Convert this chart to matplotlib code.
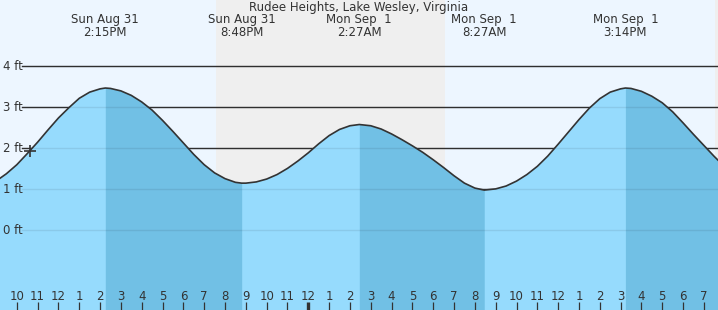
import numpy as np
import matplotlib.pyplot as plt

# hours counted from Sun Aug 31 00:00, heights in ft
hours = [9.0, 9.5, 10.0, 10.5, 11.0, 11.5, 12.0, 12.5, 13.0, 13.5, 14.0, 14.25,
         14.5, 15.0, 15.5, 16.0, 16.5, 17.0, 17.5, 18.0, 18.5, 19.0, 19.5, 20.0,
         20.5, 20.8, 21.0, 21.5, 22.0, 22.5, 23.0, 23.5, 24.0, 24.5, 25.0, 25.5,
         26.0, 26.45, 27.0, 27.5, 28.0, 28.5, 29.0, 29.5, 30.0, 30.5, 31.0, 31.5,
         32.0, 32.45, 33.0, 33.5, 34.0, 34.5, 35.0, 35.5, 36.0, 36.5, 37.0, 37.5,
         38.0, 38.5, 39.0, 39.23, 39.5, 40.0, 40.5, 41.0, 41.5, 42.0, 42.5, 43.0,
         43.5, 44.0]
height_ft = [1.20, 1.38, 1.60, 1.87, 2.15, 2.45, 2.74, 2.99, 3.22, 3.37, 3.45, 3.47,
             3.46, 3.40, 3.29, 3.13, 2.93, 2.68, 2.41, 2.13, 1.85, 1.60, 1.40, 1.26,
             1.17, 1.15, 1.15, 1.18, 1.25, 1.36, 1.51, 1.69, 1.89, 2.11, 2.31, 2.46,
             2.55, 2.58, 2.55, 2.47, 2.35, 2.21, 2.06, 1.90, 1.72, 1.53, 1.33, 1.15,
             1.03, 0.98, 1.01, 1.08, 1.20, 1.36, 1.56, 1.81, 2.10, 2.40, 2.70, 2.98,
             3.21, 3.37, 3.45, 3.47, 3.46, 3.39, 3.27, 3.11, 2.89, 2.62, 2.34, 2.07,
             1.80, 1.55]

high_hours = [14.25, 26.45, 39.23]
low_hours = [20.8, 32.45]

tide_hours = [14.25, 20.8, 26.45, 32.45, 39.23]
tide_days = ["Sun Aug 31", "Sun Aug 31", "Mon Sep  1", "Mon Sep  1", "Mon Sep  1"]
tide_clock = ["2:15PM", "8:48PM", "2:27AM", "8:27AM", "3:14PM"]

night_spans = [(19.57, 30.57), (43.52, 44.5)]
now_hour = 10.63

ft_levels = [0, 1, 2, 3, 4]
hour_ticks = list(range(10, 44))

title = "Rudee Heights, Lake Wesley, Virginia"

t = np.array(hours)
h = np.array(height_ft)

W, H = 718, 310
x0, x1 = 9.192, 43.678
y0, y1 = -1.944, 5.617

sky = "#EDF6FF"
night = "#EFEFEF"
water = "#96DBFD"
water_dark = "#71C0E5"
ink = "#333333"
fs = 8.5

plt.rcParams["font.family"] = "DejaVu Sans"
fig = plt.figure(figsize=(W / 100, H / 100), dpi=100)
ax = fig.add_axes([0, 0, 1, 1])
ax.set_xlim(x0, x1)
ax.set_ylim(y0, y1)
ax.axis("off")
ax.add_patch(plt.Rectangle((0, 0), 1, 1, transform=ax.transAxes, color=sky, zorder=0))

for a, b in night_spans:
    ax.axvspan(a, b, color=night, lw=0, zorder=0.5)

# level lines
for lv in ft_levels:
    ax.axhline(lv, xmin=22 / W, color=ink, lw=1.0, zorder=1)
    ax.text(3 / W, lv, f"{lv} ft", transform=ax.get_yaxis_transform(), ha="left",
            va="center", fontsize=fs, color=ink, zorder=5)

# water
ax.fill_between(t, h, y0 - 1, color=water, lw=0, zorder=2)
for hs in high_hours:
    nxt = [lo for lo in low_hours if lo > hs]
    end = nxt[0] if nxt else t[-1]
    m = (t >= hs) & (t <= end)
    ax.fill_between(t[m], h[m], y0 - 1, color=water_dark, lw=0, zorder=2.1)
for lv in ft_levels:
    ax.axhline(lv, xmin=22 / W, color="k", alpha=0.08, lw=1.0, zorder=2.5)
ax.plot(t, h, color=ink, lw=1.2, zorder=3)

ax.plot([now_hour], [np.interp(now_hour, t, h)], marker="+", color=ink,
        ms=9, mew=1.2, zorder=4)

# bottom hour labels and ticks
bx = ax.get_xaxis_transform()
for hr in hour_ticks:
    lab = (hr - 1) % 12 + 1
    ax.text(hr, 1 - 296 / H, str(lab), transform=bx, ha="center", va="center",
            fontsize=fs, color=ink, zorder=5)
    ax.plot([hr, hr], [0, 8 / H], transform=bx, color=ink,
            lw=2.4 if hr % 24 == 0 else 0.9, solid_capstyle="butt", zorder=5)

# top labels
ax.text(0.5, 1 - 8 / H, title, transform=ax.transAxes, ha="center", va="center",
        fontsize=fs, color=ink, zorder=5)
for th, d, c in zip(tide_hours, tide_days, tide_clock):
    ax.text(th, 1 - 20 / H, d, transform=bx, ha="center", va="center",
            fontsize=fs, color=ink, zorder=5)
    ax.text(th, 1 - 32 / H, c, transform=bx, ha="center", va="center",
            fontsize=fs, color=ink, zorder=5)

fig.savefig("out.png", dpi=100)
